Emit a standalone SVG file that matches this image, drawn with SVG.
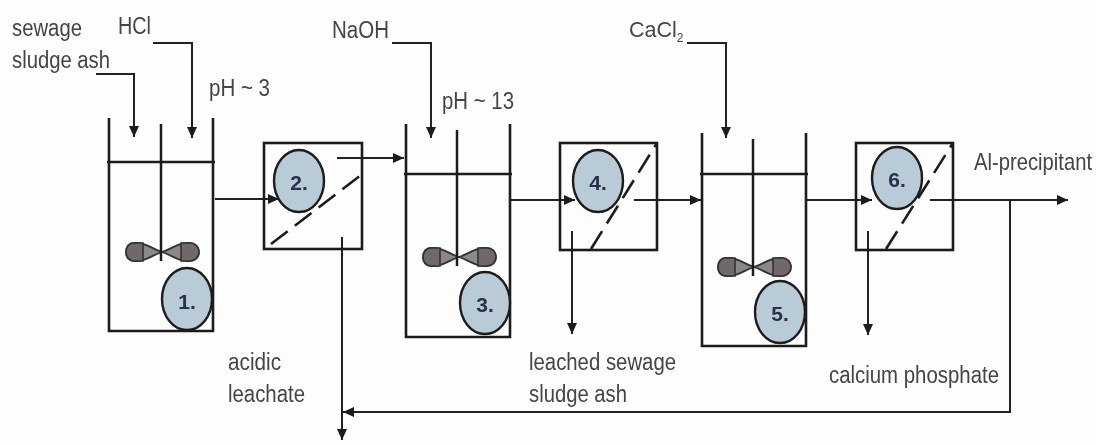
<svg xmlns="http://www.w3.org/2000/svg" width="1096" height="444" viewBox="0 0 1096 444">
<style>
.l{fill:none;stroke:#1c1c1c;stroke-width:2.5}
.t{fill:none;stroke:#1c1c1c;stroke-width:2.6}
.a{fill:none;stroke:#222;stroke-width:2;marker-end:url(#ah)}
.d{fill:none;stroke:#1c1c1c;stroke-width:2.6;stroke-dasharray:21 9}
.c{fill:#b9cbd6;stroke:#1c1c1c;stroke-width:2.4}
.n{font:bold 21px "Liberation Sans",Arial,sans-serif;fill:#26304a;text-anchor:middle}
.x{font:23px "Liberation Sans",Arial,sans-serif;fill:#444}
</style>
<defs>
<filter id="soft" x="0" y="0" width="100%" height="100%"><feGaussianBlur stdDeviation="0.45"/></filter>
<marker id="ah" markerUnits="userSpaceOnUse" markerWidth="12" markerHeight="11" refX="11" refY="5.5" orient="auto"><path d="M0 0.5L11 5.5L0 10.5z" fill="#1c1c1c"/></marker>
<g id="imp">
<path d="M0 0C-10 -3 -15 -9 -25 -9L-28 -9C-33 -9 -36 -5 -36 0C-36 5 -33 9 -28 9L-25 9C-15 9 -10 3 0 0C10 -3 15 -9 25 -9L28 -9C33 -9 37 -5 37 0C37 5 33 9 28 9L25 9C15 9 10 3 0 0z" fill="#8d8888" stroke="#333" stroke-width="1.8"/>
<path d="M-36 0C-36 -5 -33 -9 -28 -9L-19 -9V9L-28 9C-33 9 -36 5 -36 0zM37 0C37 -5 33 -9 28 -9L19 -9V9L28 9C33 9 37 5 37 0z" fill="#6f6969" stroke="#333" stroke-width="1.6"/>
</g>
</defs>
<g filter="url(#soft)">
<rect width="1096" height="444" fill="#fdfdfd"/>
<g id="connectors">
<path class="a" d="M96 74H134V137"/>
<path class="a" d="M153 43H192V138"/>
<path class="a" d="M392 43H431V138"/>
<path class="a" d="M687 43H726V138"/>
<path class="a" d="M215 199H279"/>
<path class="a" d="M337 158H404"/>
<path class="a" d="M511 200H575"/>
<path class="a" d="M634 200H701"/>
<path class="a" d="M807 200H872"/>
<path class="a" d="M930 200H1068"/>
<path class="a" d="M572 231V334"/>
<path class="a" d="M868 231V335"/>
<path class="a" d="M342 237V440"/>
<path class="a" d="M1010 200V412H343"/>
</g>
<g id="tank1">
<path class="t" d="M109 118V331H213V118M107 162H215"/>
<use href="#imp" x="162" y="252"/>
<path class="l" d="M161 124V261"/>
</g>
<g id="tank3">
<path class="t" d="M406 124V337H510V124M404 174H512"/>
<use href="#imp" x="459" y="257"/>
<path class="l" d="M457 130V266"/>
</g>
<g id="tank5">
<path class="t" d="M702 133V346H806V133M700 174H808"/>
<use href="#imp" x="754" y="267"/>
<path class="l" d="M753 139V276"/>
</g>
<g id="box2"><rect class="t" x="264" y="143" width="98" height="106"/><path class="d" d="M271 244L361 175"/></g>
<g id="box4"><rect class="t" x="560" y="143" width="97" height="107"/><path class="d" d="M591 249L657 143"/></g>
<g id="box6"><rect class="t" x="856" y="143" width="97" height="107"/><path class="d" d="M886 249L953 143"/></g>
<g id="node1"><ellipse class="c" cx="187" cy="299" rx="25" ry="31"/><text class="n" x="187" y="309">1.</text></g>
<g id="node2"><ellipse class="c" cx="299" cy="181" rx="25" ry="31"/><text class="n" x="299" y="190">2.</text></g>
<g id="node3"><ellipse class="c" cx="485" cy="303" rx="25" ry="31"/><text class="n" x="485" y="312">3.</text></g>
<g id="node4"><ellipse class="c" cx="598" cy="181" rx="25" ry="31"/><text class="n" x="598" y="190">4.</text></g>
<g id="node5"><ellipse class="c" cx="780" cy="312" rx="25" ry="31"/><text class="n" x="780" y="321">5.</text></g>
<g id="node6"><ellipse class="c" cx="897" cy="178" rx="25" ry="31"/><text class="n" x="897" y="187">6.</text></g>
<g id="labels">
<text class="x" x="12" y="36" textLength="70" lengthAdjust="spacingAndGlyphs">sewage</text>
<text class="x" x="12" y="68" textLength="98" lengthAdjust="spacingAndGlyphs">sludge ash</text>
<text class="x" x="118" y="34" textLength="33" lengthAdjust="spacingAndGlyphs">HCl</text>
<text class="x" x="209" y="96" textLength="61" lengthAdjust="spacingAndGlyphs">pH ~ 3</text>
<text class="x" x="332" y="38" textLength="57" lengthAdjust="spacingAndGlyphs">NaOH</text>
<text class="x" x="442" y="109" textLength="72" lengthAdjust="spacingAndGlyphs">pH ~ 13</text>
<text class="x" x="629" y="37" style="font-size:21.5px">CaCl<tspan style="font-size:12px" dy="5">2</tspan></text>
<text class="x" transform="translate(974 170) scale(.88 1)">Al-precipitant</text>
<text class="x" x="228" y="370" textLength="53" lengthAdjust="spacingAndGlyphs">acidic</text>
<text class="x" x="228" y="402" textLength="77" lengthAdjust="spacingAndGlyphs">leachate</text>
<text class="x" x="529" y="370" textLength="147" lengthAdjust="spacingAndGlyphs">leached sewage</text>
<text class="x" x="529" y="402" textLength="98" lengthAdjust="spacingAndGlyphs">sludge ash</text>
<text class="x" x="829" y="383" textLength="170" lengthAdjust="spacingAndGlyphs">calcium phosphate</text>
</g>
</g>
</svg>
